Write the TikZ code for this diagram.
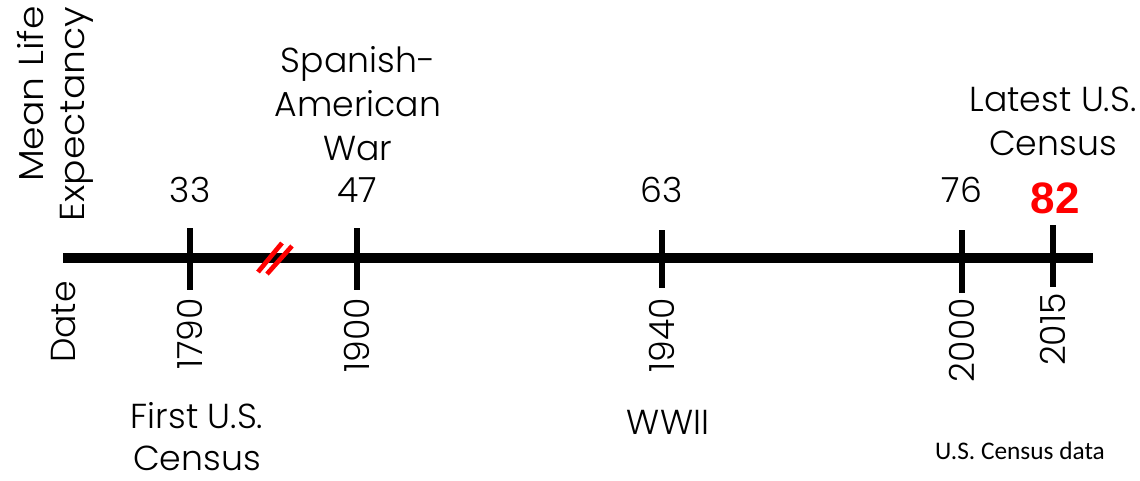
\documentclass[tikz,border=0pt]{standalone}
\usepackage{fontspec}
\setmainfont{Poppins}[UprightFont=* Light]
\newfontfamily\notefont{Carlito}
\newfontfamily\boldfont{Liberation Sans}
\begin{document}
\begin{tikzpicture}[x=0.75pt,y=-0.75pt,
  lbl/.style={font=\fontsize{26}{33}\selectfont, align=center, inner sep=0pt},
  word/.style={font=\fontsize{26}{33}\selectfont, inner sep=0pt},
  tick/.style={line width=4pt},
  axisline/.style={line width=7.5pt},
  breakmark/.style={red, line width=3.5pt}]
\useasboundingbox (0,0) rectangle (1140,480);
\clip (0,0) rectangle (1140,480);

% time axis
\coordinate (axL) at (63,258);
\coordinate (axR) at (1093,258);
\draw[axisline] (axL) -- (axR);

% tick marks
\foreach \n/\x/\t/\b in {a/190/228/290, b/357/228/290, c/662/230/288, d/962/230/293, e/1053/225/287}{
  \coordinate (\n top) at (\x,\t);
  \coordinate (\n bot) at (\x,\b);
  \draw[tick] (\n top) -- (\n bot);
}

% axis break
\coordinate (br1a) at (258,272); \coordinate (br1b) at (282,243);
\coordinate (br2a) at (267,274); \coordinate (br2b) at (292,246);
\draw[breakmark] (br1a) -- (br1b);
\draw[breakmark] (br2a) -- (br2b);

% row headings
\node[lbl, rotate=90] (mle) at (55,114)
  {\scalebox{1.09}[1]{\begin{tabular}{@{}r@{}}Mean Life\\[-2pt]Expectancy\end{tabular}}};
\node[lbl, rotate=90] (date) at (64,322) {Date};

% life expectancy values
\node[lbl] (v33) at (190,190) {33};
\node[lbl] (v47) at (357,190) {47};
\node[lbl] (v63) at (662,190) {63};
\node[lbl] (v76) at (962,190) {76};
\node[inner sep=0pt, text=red, font=\boldfont\bfseries\fontsize{33}{36}\selectfont] (v82) at (1055,198) {82};

% years
\node[lbl, rotate=90, anchor=east] (y1790) at (190,298) {1790};
\node[lbl, rotate=90, anchor=east] (y1900) at (357,298) {1900};
\node[lbl, rotate=90, anchor=east] (y1940) at (662,298) {1940};
\node[lbl, rotate=90, anchor=east] (y2000) at (962,298) {2000};
\node[lbl, rotate=90, anchor=east] (y2015) at (1053,293) {2015};

% events
\node[lbl] (spanish) at (358,104) {Spanish-\\American\\War};
\node[lbl] (latest) at (1053,121) {Latest U.S.\\Census};
\node[word, anchor=base] (first1) at (197,428) {First U.S.};
\node[word, anchor=base] (first2) at (197,470) {Census};
\node[lbl] (wwii) at (668,422) {WWII};

% source note
\node[inner sep=0pt, font=\notefont\fontsize{19}{22}\selectfont] (src) at (1020,451) {U.S. Census data};
\end{tikzpicture}
\end{document}
